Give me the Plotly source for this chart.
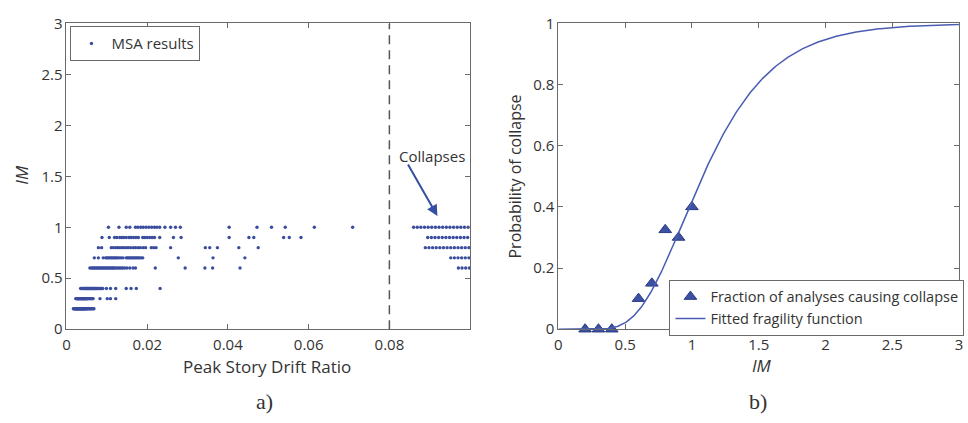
import math
import plotly.graph_objects as go

# ---------------------------------------------------------------------------
# Multiple-stripe analysis: 40 ground motions scaled to each IM level
# ---------------------------------------------------------------------------
IM_LEVELS = [0.2, 0.3, 0.4, 0.6, 0.7, 0.8, 0.9, 1.0]
N_RECORDS = 40

# peak story drift ratios of non-collapsing analyses, per IM level
drift_im02 = [0.0017, 0.0019, 0.0020, 0.0022, 0.0023, 0.0024, 0.0025, 0.0026, 0.0027, 0.0028,
              0.0029, 0.0030, 0.0031, 0.0032, 0.0033, 0.0034, 0.0035, 0.0036, 0.0037, 0.0038,
              0.0039, 0.0040, 0.0041, 0.0042, 0.0043, 0.0044, 0.0045, 0.0046, 0.0047, 0.0048,
              0.0050, 0.0051, 0.0053, 0.0055, 0.0057, 0.0059, 0.0061, 0.0063, 0.0066, 0.0068]
drift_im03 = [0.0023, 0.0025, 0.0026, 0.0027, 0.0028, 0.0029, 0.0030, 0.0031, 0.0032, 0.0033,
              0.0034, 0.0035, 0.0036, 0.0037, 0.0038, 0.0039, 0.0040, 0.0041, 0.0042, 0.0043,
              0.0044, 0.0045, 0.0046, 0.0047, 0.0048, 0.0049, 0.0050, 0.0051, 0.0052, 0.0054,
              0.0056, 0.0058, 0.0060, 0.0062, 0.0064, 0.0066, 0.0083, 0.0101, 0.0109, 0.0122]
drift_im04 = [0.0035, 0.0037, 0.0039, 0.0041, 0.0043, 0.0044, 0.0046, 0.0047, 0.0049, 0.0050,
              0.0052, 0.0053, 0.0055, 0.0056, 0.0058, 0.0059, 0.0060, 0.0062, 0.0063, 0.0065,
              0.0066, 0.0068, 0.0069, 0.0071, 0.0072, 0.0074, 0.0076, 0.0078, 0.0080, 0.0082,
              0.0085, 0.0087, 0.0090, 0.0099, 0.0109, 0.0122, 0.0148, 0.0160, 0.0173, 0.0232]
drift_im06 = [0.0058, 0.0062, 0.0065, 0.0068, 0.0071, 0.0074, 0.0077, 0.0080, 0.0083, 0.0086,
              0.0089, 0.0092, 0.0095, 0.0098, 0.0101, 0.0104, 0.0107, 0.0110, 0.0113, 0.0116,
              0.0119, 0.0123, 0.0127, 0.0131, 0.0135, 0.0139, 0.0144, 0.0150, 0.0157, 0.0165,
              0.0171, 0.0220, 0.0294, 0.0343, 0.0362, 0.0430]
drift_im07 = [0.0069, 0.0079, 0.0091, 0.0097, 0.0100, 0.0103, 0.0106, 0.0109, 0.0112, 0.0115,
              0.0118, 0.0121, 0.0124, 0.0127, 0.0131, 0.0135, 0.0140, 0.0148, 0.0151, 0.0154,
              0.0157, 0.0160, 0.0163, 0.0166, 0.0169, 0.0172, 0.0175, 0.0178, 0.0181, 0.0185,
              0.0189, 0.0277, 0.0363, 0.0442]
drift_im08 = [0.0079, 0.0087, 0.0111, 0.0116, 0.0122, 0.0127, 0.0132, 0.0137, 0.0142, 0.0148,
              0.0153, 0.0159, 0.0166, 0.0171, 0.0177, 0.0183, 0.0190, 0.0196, 0.0210, 0.0216,
              0.0222, 0.0258, 0.0344, 0.0355, 0.0374, 0.0427, 0.0475]
drift_im09 = [0.0088, 0.0106, 0.0119, 0.0125, 0.0132, 0.0137, 0.0142, 0.0148, 0.0155, 0.0160,
              0.0166, 0.0172, 0.0178, 0.0189, 0.0194, 0.0200, 0.0206, 0.0212, 0.0218, 0.0231,
              0.0265, 0.0284, 0.0403, 0.0452, 0.0464, 0.0538, 0.0552, 0.0581]
drift_im10 = [0.0104, 0.0130, 0.0148, 0.0157, 0.0171, 0.0177, 0.0184, 0.0190, 0.0197, 0.0204,
              0.0211, 0.0218, 0.0224, 0.0231, 0.0244, 0.0258, 0.0270, 0.0282, 0.0403, 0.0472,
              0.0508, 0.0542, 0.0614, 0.0709]

# collapsed analyses, shown as a row beyond the 0.08 collapse limit
collapse_im02 = []
collapse_im03 = []
collapse_im04 = []
collapse_im06 = [0.0971, 0.0980, 0.0989, 0.0998]
collapse_im07 = [0.0952, 0.0961, 0.0970, 0.0979, 0.0988, 0.0997]
collapse_im08 = [0.0889, 0.0898, 0.0907, 0.0916, 0.0925, 0.0934, 0.0943, 0.0952, 0.0961, 0.0970,
                 0.0979, 0.0988, 0.0997]
collapse_im09 = [0.0895, 0.0904, 0.0913, 0.0922, 0.0931, 0.0940, 0.0949, 0.0958, 0.0967, 0.0976,
                 0.0985, 0.0994]
collapse_im10 = [0.0860, 0.0869, 0.0878, 0.0887, 0.0896, 0.0905, 0.0914, 0.0923, 0.0932, 0.0941,
                 0.0950, 0.0959, 0.0968, 0.0977, 0.0986, 0.0995]

DRIFT_LIMIT = 0.08

# fitted lognormal fragility parameters (median and dispersion)
FRAGILITY_MEDIAN = 1.08
FRAGILITY_BETA = 0.38

# tick labels
LEFT_X_TICKS = [0, 0.02, 0.04, 0.06, 0.08]
LEFT_X_LABELS = ["0", "0.02", "0.04", "0.06", "0.08"]
LEFT_Y_TICKS = [0, 0.5, 1, 1.5, 2, 2.5, 3]
LEFT_Y_LABELS = ["0", "0.5", "1", "1.5", "2", "2.5", "3"]
RIGHT_X_TICKS = [0, 0.5, 1, 1.5, 2, 2.5, 3]
RIGHT_X_LABELS = ["0", "0.5", "1", "1.5", "2", "2.5", "3"]
RIGHT_Y_TICKS = [0, 0.2, 0.4, 0.6, 0.8, 1]
RIGHT_Y_LABELS = ["0", "0.2", "0.4", "0.6", "0.8", "1"]

# ---------------------------------------------------------------------------
drifts = [drift_im02, drift_im03, drift_im04, drift_im06, drift_im07, drift_im08, drift_im09, drift_im10]
collapses = [collapse_im02, collapse_im03, collapse_im04, collapse_im06, collapse_im07,
             collapse_im08, collapse_im09, collapse_im10]

msa_x, msa_y = [], []
for im, d, c in zip(IM_LEVELS, drifts, collapses):
    for v in d + c:
        msa_x.append(v)
        msa_y.append(im)

collapse_fraction = [len(c) / N_RECORDS for c in collapses]


def lognormal_cdf(x, median, beta):
    if x <= 0:
        return 0.0
    return 0.5 * (1.0 + math.erf(math.log(x / median) / (beta * math.sqrt(2.0))))


im_grid = [i / 100 for i in range(0, 301)]
fragility = [lognormal_cdf(v, FRAGILITY_MEDIAN, FRAGILITY_BETA) for v in im_grid]

W, H = 968, 423
FONT = "Open Sans"
TXT = "#333333"
AXC = "#6a6a6a"
BLUE = "#3b4d9f"


def px(x):
    return x / W


def py(y):
    return 1 - y / H


fig = go.Figure()
fig.add_trace(go.Scatter(
    x=msa_x, y=msa_y, mode="markers", name="MSA results",
    marker=dict(size=3.4, color=BLUE), xaxis="x", yaxis="y", legend="legend"))
fig.add_trace(go.Scatter(
    x=IM_LEVELS, y=collapse_fraction, mode="markers",
    name="Fraction of analyses causing collapse",
    marker=dict(symbol="triangle-up", size=11, color="#3d51a2", line=dict(color="#2b3b82", width=1)),
    xaxis="x2", yaxis="y2", legend="legend2", cliponaxis=False))
fig.add_trace(go.Scatter(
    x=im_grid, y=fragility, mode="lines", name="Fitted fragility function",
    line=dict(color="#4a5db2", width=1.5), xaxis="x2", yaxis="y2", legend="legend2"))

axis_common = dict(showgrid=False, zeroline=False, showline=True, linecolor=AXC, linewidth=1,
                   mirror="ticks", ticks="inside", ticklen=5, tickcolor=AXC,
                   tickfont=dict(family=FONT, size=15, color=TXT))

fig.update_layout(
    width=W, height=H, margin=dict(l=0, r=0, t=0, b=0),
    paper_bgcolor="white", plot_bgcolor="white",
    font=dict(family=FONT, color=TXT),
    xaxis=dict(domain=[px(63), px(470)], range=[0, 0.1], tickvals=LEFT_X_TICKS,
               ticktext=LEFT_X_LABELS, anchor="y", ticklabelstandoff=2, **axis_common),
    yaxis=dict(domain=[py(334), py(13)], range=[0, 3], tickvals=LEFT_Y_TICKS,
               ticktext=LEFT_Y_LABELS, anchor="x", **axis_common),
    xaxis2=dict(domain=[px(559), px(963)], range=[0, 3], tickvals=RIGHT_X_TICKS,
                ticktext=RIGHT_X_LABELS, anchor="y2", ticklabelstandoff=2, **axis_common),
    yaxis2=dict(domain=[py(334), py(13)], range=[0, 1], tickvals=RIGHT_Y_TICKS,
                ticktext=RIGHT_Y_LABELS, anchor="x2", **axis_common),
    legend=dict(x=px(67), y=py(16), xanchor="left", yanchor="top", bgcolor="white",
                bordercolor=AXC, borderwidth=1, font=dict(family=FONT, size=15, color=TXT)),
    legend2=dict(x=px(671), y=py(282), xanchor="left", yanchor="top", bgcolor="white",
                 bordercolor=AXC, borderwidth=1, font=dict(family=FONT, size=14.5, color=TXT),
                 tracegroupgap=0),
    showlegend=True,
)

# collapse drift limit
fig.add_shape(type="line", xref="x", yref="y", x0=DRIFT_LIMIT, x1=DRIFT_LIMIT, y0=0, y1=3,
              line=dict(color="#555555", width=1.5, dash="9px,6px"))

# "Collapses" call-out
fig.add_annotation(xref="x", yref="y", x=0.0919, y=1.11, axref="x", ayref="y",
                   ax=0.0844, ay=1.63, text="", showarrow=True, arrowhead=2, arrowsize=1.1,
                   arrowwidth=2, arrowcolor="#3550a0")
fig.add_annotation(xref="x", yref="y", x=0.0905, y=1.70, text="Collapses", showarrow=False,
                   font=dict(family=FONT, size=15, color=TXT))

# axis titles and panel labels
titles = [
    ("<i>IM</i>", 18, 172, -90, 17, FONT),
    ("Peak Story Drift Ratio", 265, 373, 0, 17, FONT),
    ("a)", 263, 410, 0, 22, "Liberation Serif"),
    ("Probability of collapse", 515, 174, -90, 16, FONT),
    ("<i>IM</i>", 764, 372, 0, 17, FONT),
    ("b)", 760, 410, 0, 22, "Liberation Serif"),
]
for text, x, y, ang, size, fam in titles:
    fig.add_annotation(xref="paper", yref="paper", x=px(x), y=py(y), text=text, showarrow=False,
                       textangle=ang, xanchor="center", yanchor="middle",
                       font=dict(family=fam, size=size, color=TXT))

fig.write_html("out.html")
